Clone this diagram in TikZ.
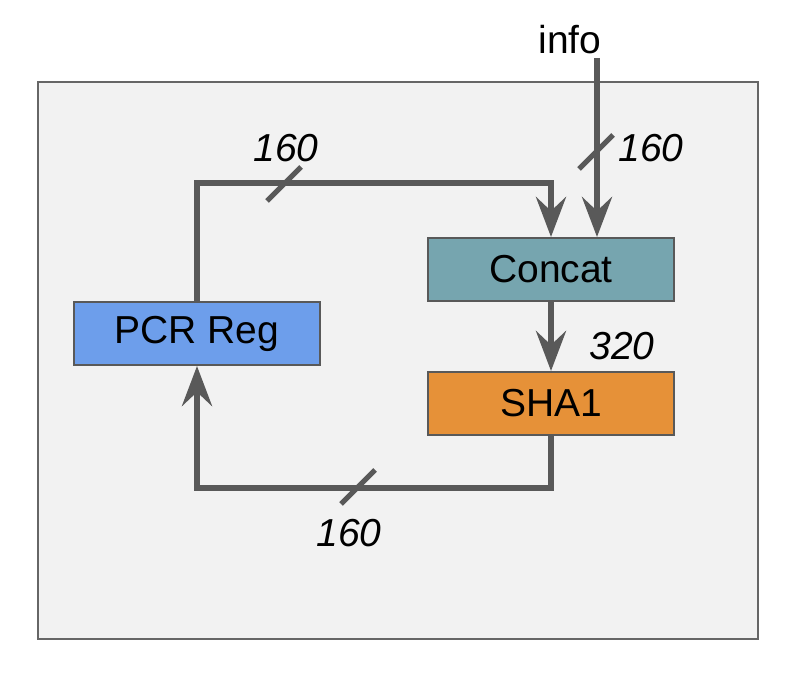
\documentclass[tikz,border=0pt]{standalone}
\usepackage{fontspec}
\setmainfont{Liberation Sans}
\usetikzlibrary{arrows.meta,calc}
\definecolor{wire}{HTML}{595959}
\definecolor{pcrblue}{HTML}{6D9EEB}
\definecolor{concatteal}{HTML}{76A5AF}
\definecolor{shaorange}{HTML}{E69138}
\def\busmark(#1){\draw[line width=2.5pt, color=wire] ($(#1)+(-17,17)$) -- ($(#1)+(17,-17)$);}

\begin{document}
\begin{tikzpicture}[x=0.5pt, y=-0.5pt,
    every node/.style={font=\fontsize{19.5}{23}\selectfont},
    block/.style={draw=wire, line width=1pt, minimum width=123pt, minimum height=31.5pt, inner sep=0pt},
    bus/.style={line width=3pt, color=wire},
    busarrow/.style={bus, -{Stealth[length=20pt, width=15pt, inset=7pt]}},
    width/.style={font=\fontsize{19.5}{23}\selectfont\itshape, inner sep=0pt}]
    %%%%% START %%%%%
    \useasboundingbox (0, 0) rectangle (808, 694);
    \draw[fill=black!5, draw=black!60, line width=1pt] (38, 82) rectangle (758, 639);

    \node[block, fill=pcrblue] (pcr) at (197, 333.5) {PCR Reg};
    \node[block, fill=concatteal] (concat) at (551, 269.5) {Concat};
    \node[block, fill=shaorange] (sha) at (551, 403.5) {SHA1};

    \node[inner sep=0pt] (info) at (570, 40) {info};
    \coordinate (infoin) at (597, 58);
    \coordinate (looptop) at (0, 183);
    \coordinate (loopbot) at (0, 488);

    \draw[busarrow] (infoin) -- (infoin |- concat.north);
    \draw[busarrow] (pcr.north) |- (concat.north |- looptop) -- (concat.north);
    \draw[busarrow] (concat.south) -- (sha.north);
    \draw[busarrow] (sha.south) |- (pcr.south |- loopbot) -- (pcr.south);

    \busmark(284, 184)
    \busmark(596, 152)
    \busmark(358, 487)

    \node[width] (wtop) at (286, 148) {160};
    \node[width] (winfo) at (651, 148) {160};
    \node[width] (wsha) at (622, 346) {320};
    \node[width] (wbot) at (349, 533) {160};
    %%%%% END %%%%%
\end{tikzpicture}
\end{document}
